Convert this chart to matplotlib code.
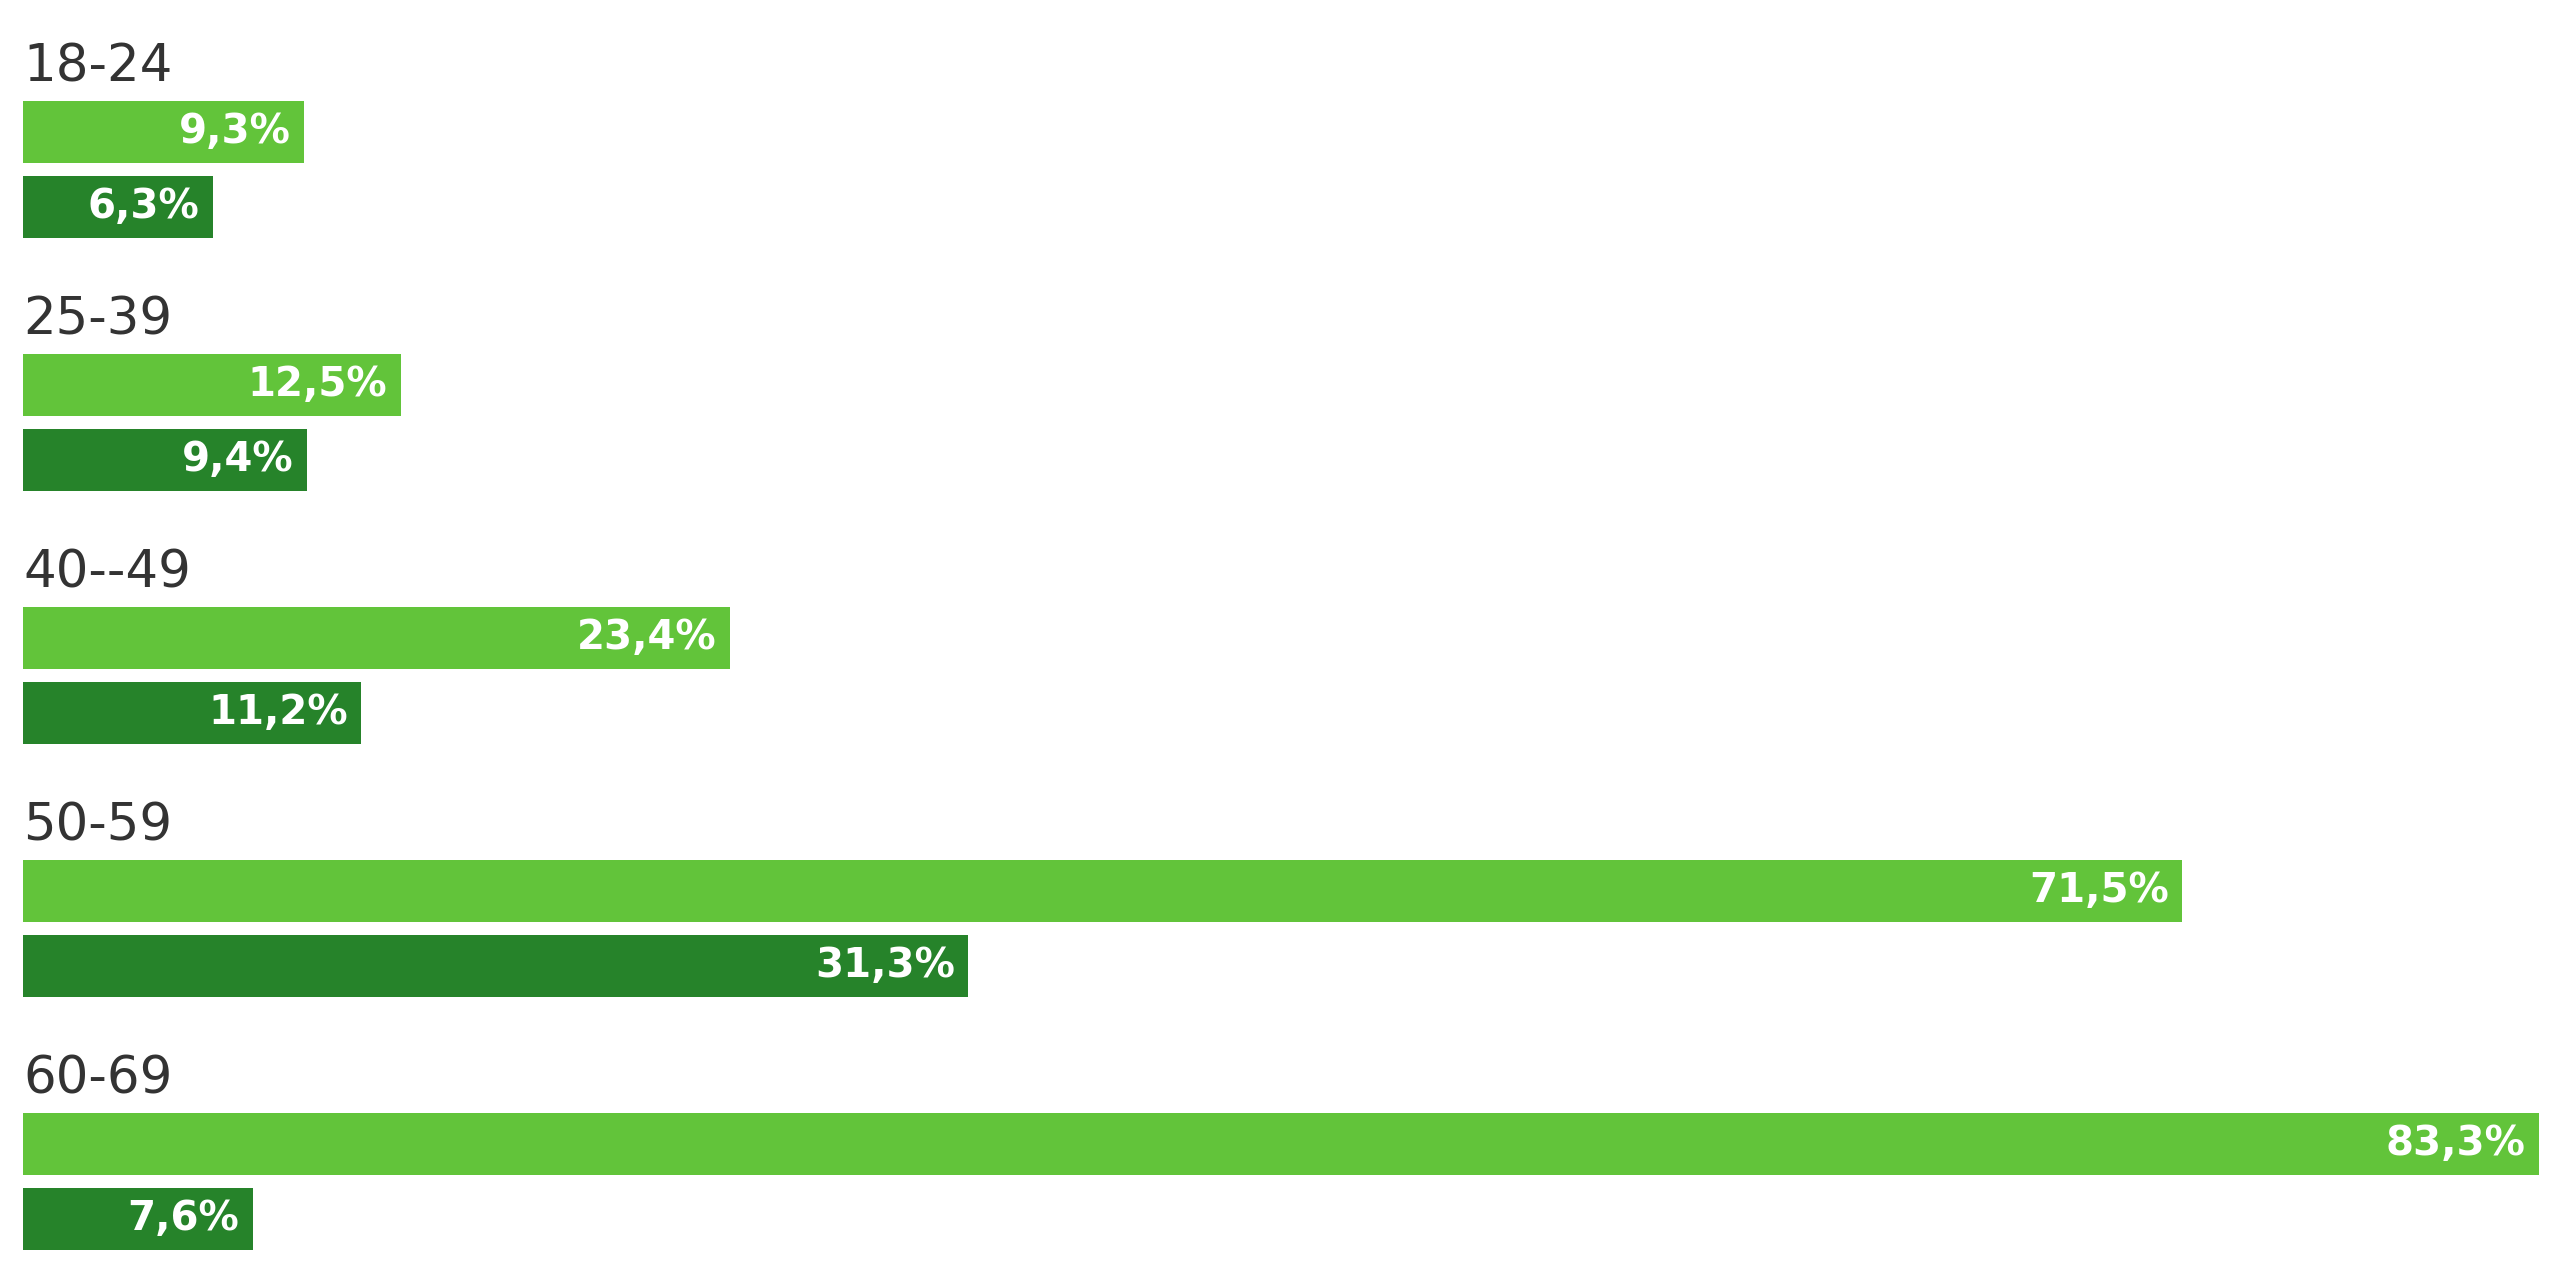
import numpy as np
import matplotlib.pyplot as plt

groups = ['18-24', '25-39', '40--49', '50-59', '60-69']
light_vals = [9.3, 12.5, 23.4, 71.5, 83.3]
dark_vals = [6.3, 9.4, 11.2, 31.3, 7.6]
light_labels = ['9,3%', '12,5%', '23,4%', '71,5%', '83,3%']
dark_labels = ['6,3%', '9,4%', '11,2%', '31,3%', '7,6%']

light_color = '#62c43a'
dark_color = '#26832a'

fig = plt.figure(figsize=(25.6, 12.88), dpi=100)
ax = fig.add_axes([0, 0, 1, 1])

y = np.arange(len(groups))
offset = 0.296
height = 0.245

ax.barh(y, light_vals, height=height, color=light_color)
ax.barh(y + offset, dark_vals, height=height, color=dark_color)

pad = 0.45
for i in range(len(groups)):
    ax.text(0.0, y[i] - 0.2, groups[i], fontsize=37, color='#333333',
            ha='left', va='baseline')
    ax.text(light_vals[i] - pad, y[i], light_labels[i], fontsize=29,
            color='white', ha='right', va='center', fontweight='bold')
    ax.text(dark_vals[i] - pad, y[i] + offset, dark_labels[i], fontsize=29,
            color='white', ha='right', va='center', fontweight='bold')

ax.set_xlim(-0.762, 84.0)
ax.set_ylim(4.569, -0.522)
ax.axis('off')

fig.savefig('out.png', dpi=100)
